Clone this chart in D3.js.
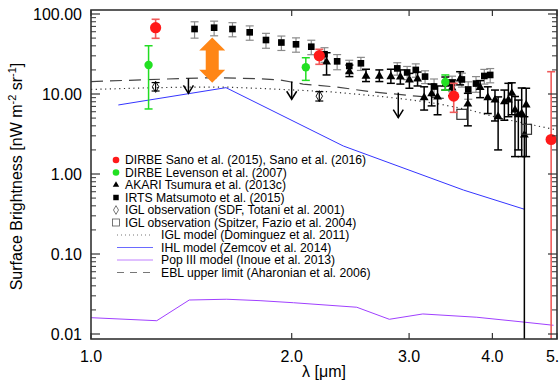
<!DOCTYPE html>
<html><head><meta charset="utf-8">
<script src="https://cdn.jsdelivr.net/npm/d3@7"></script>
<style>
html,body{margin:0;padding:0;background:#fff;}
svg{display:block;font-family:"Liberation Sans",Arial,Helvetica,sans-serif;}
</style></head>
<body><svg id="c" width="559" height="383"></svg>
<script>
// ---------- data ----------
const xTicks = [1, 2, 3, 4, 5];
const xTickLabels = ["1.0", "2.0", "3.0", "4.0", "5.0"];
const yTicks = [0.01, 0.1, 1, 10, 100];
const yTickLabels = ["0.01", "0.10", "1.00", "10.00", "100.00"];

// DIRBE Sano et al.
const sanoLam = [1.25, 2.2, 3.5, 4.9];
const sanoVal = [67.4, 30.1, 9.4, 2.7];
const sanoHi  = [85.9, 36.2, 13.6, 19.0];
const sanoLo  = [49.7, 23.5, 5.9, 0.001];

// DIRBE Levenson et al.
const levLam = [1.22, 2.10, 3.40];
const levVal = [23.0, 21.6, 14.1];
const levHi  = [40.1, 28.4, 17.3];
const levLo  = [6.5, 14.8, 11.2];

// IRTS Matsumoto et al.
const irtsLam = [1.43, 1.53, 1.63, 1.73, 1.83, 1.93, 2.03, 2.14, 2.24, 2.34, 2.44, 2.54, 2.88, 2.98, 3.07, 3.17, 3.27, 3.48, 3.60, 3.68, 3.78, 3.89, 3.97];
const irtsVal = [64.9, 67.4, 64.9, 59.0, 47.3, 44.0, 41.8, 39.0, 31.4, 25.6, 22.4, 24.2, 20.9, 18.6, 20.0, 16.5, 12.4, 13.7, 15.2, 11.4, 13.5, 16.8, 17.3];
const irtsErr = [15, 14, 13, 12, 10, 9, 8.5, 8, 6.5, 5.5, 4, 4.5, 3.7, 3.5, 3.8, 3, 3, 3, 3, 2.8, 3, 3.5, 3.5];

// AKARI Tsumura et al.
const akariLam = [2.256, 2.441, 2.585, 2.707, 2.817, 2.911, 3.003, 3.089, 3.16, 3.243, 3.31, 3.40, 3.48, 3.578, 3.675, 3.834, 3.937, 4.036, 4.08, 4.169, 4.227, 4.277, 4.325, 4.375, 4.426, 4.467, 4.495];
const akariVal = [25.1, 19.0, 16.7, 16.7, 16.5, 16.3, 15.0, 15.4, 9.0, 10.06, 9.17, 13.3, 11.9, 15.4, 7.5, 12.1, 9.0, 8.4, 5.2, 8.0, 8.4, 10.2, 6.3, 5.5, 5.7, 3.07, 7.3];
const akariHi  = [32.8, 23.0, 20.4, 20.0, 20.4, 20.0, 18.1, 18.8, 12.3, 13.3, 12.6, 16.3, 15.0, 19.0, 10.2, 14.7, 12.3, 11.2, 9.2, 11.2, 13.6, 13.8, 9.3, 8.4, 11.9, 5.2, 11.8];
const akariLo  = [17.3, 16.5, 14.3, 14.3, 13.6, 13.3, 11.8, 12.6, 6.3, 7.1, 5.5, 11.2, 9.5, 13.0, 4.0, 9.0, 5.7, 4.6, 2.0, 4.7, 5.2, 5.5, 1.65, 2.0, 1.65, 0.001, 1.65];

// IGL observation (SDF, Totani et al. 2001)
const sdfLam = [1.25, 2.2];
const sdfVal = [12.3, 9.4];
const sdfHi  = [13.9, 10.7];
const sdfLo  = [10.9, 8.17];

// IGL observation (Spitzer, Fazio et al. 2004)
const spitzerLam = [3.6, 4.5];
const spitzerVal = [5.57, 3.62];

// upper limits (arrows)
const ulLam = [1.40, 2.0, 2.89];
const ulTop = [15.7, 14.3, 10.4];
const ulTip = [10.2, 8.6, 5.06];

// orange double arrow
const orangeLam = [1.52];
const orangeTop = [51];
const orangeBottom = [13.8];

// IGL model (Dominguez et al. 2011)
const iglLam = [1.0, 1.2, 1.4, 1.6, 1.9, 2.3, 2.7, 3.0, 3.3, 3.7, 4.1, 4.6, 5.0];
const iglVal = [11.4, 11.9, 12.2, 12.2, 11.5, 10.6, 9.4, 8.5, 7.6, 6.3, 5.0, 4.1, 3.55];

// IHL model (Zemcov et al. 2014)
const ihlLam = [1.099, 1.594, 2.39, 3.62, 4.47];
const ihlVal = [7.29, 12.0, 2.24, 0.63, 0.362];

// Pop III model (Inoue et al. 2013)
const popLam = [1.0, 1.255, 1.404, 1.598, 1.793, 2.012, 2.504, 2.802, 3.145, 3.79, 4.40, 4.94];
const popVal = [0.016, 0.01466, 0.0266, 0.0272, 0.0261, 0.0246, 0.0216, 0.01527, 0.0178, 0.0162, 0.01425, 0.01285];

// EBL upper limit (Aharonian et al. 2006)
const eblLam = [1.0, 1.30, 1.535, 1.762, 1.92, 2.08, 2.34, 2.62, 3.08, 3.46];
const eblVal = [14.3, 15.4, 16.0, 15.6, 15.0, 13.3, 12.2, 10.7, 9.4, 8.7];

const legendLabels = [
  "DIRBE Sano et al. (2015), Sano et al. (2016)",
  "DIRBE Levenson et al. (2007)",
  "AKARI Tsumura et al. (2013c)",
  "IRTS Matsumoto et al. (2015)",
  "IGL observation (SDF, Totani et al. 2001)",
  "IGL observation (Spitzer, Fazio et al. 2004)",
  "IGL model (Dominguez et al. 2011)",
  "IHL model (Zemcov et al. 2014)",
  "Pop III model (Inoue et al. 2013)",
  "EBL upper limit (Aharonian et al. 2006)"
];

// ---------- layout ----------
const L = 91, R = 557, T = 10, B = 339;
const svg = d3.select("#c");
const x = d3.scaleLog().domain([1, 5]).range([L, R]);
const y = d3.scaleLog().domain([0.00866, 112.2]).range([B, T]);

const RED = "#ff1a1a", REDBAR = "#f05a5a", GREEN = "#22e022", GREENBAR = "#22dd22";
const BLUE = "#3535ff", PURPLE = "#a040ff", ORANGE = "#ff8616";

svg.append("defs").append("clipPath").attr("id", "clip")
  .append("rect").attr("x", L).attr("y", T).attr("width", R - L).attr("height", B - T);
const plot = svg.append("g").attr("clip-path", "url(#clip)");

const line = d3.line().x(d => x(d[0])).y(d => y(d[1]));
const zip = (a, b) => a.map((v, i) => [v, b[i]]);

// model lines
plot.append("path").attr("d", line(zip(popLam, popVal))).attr("fill", "none").attr("stroke", PURPLE).attr("stroke-width", 1);
plot.append("path").attr("d", line(zip(ihlLam, ihlVal))).attr("fill", "none").attr("stroke", BLUE).attr("stroke-width", 1);
plot.append("path").attr("d", line(zip(iglLam, iglVal))).attr("fill", "none").attr("stroke", "#333").attr("stroke-width", 1.2).attr("stroke-dasharray", "1.2,3.5");
plot.append("path").attr("d", line(zip(eblLam, eblVal))).attr("fill", "none").attr("stroke", "#444").attr("stroke-width", 1.2).attr("stroke-dasharray", "12,7");

function errBars(g, lam, lo, hi, color, w, cap) {
  lam.forEach((l, i) => {
    const cx = x(l);
    g.append("line").attr("x1", cx).attr("x2", cx).attr("y1", y(lo[i])).attr("y2", y(hi[i])).attr("stroke", color).attr("stroke-width", w);
    [lo[i], hi[i]].forEach(v => {
      g.append("line").attr("x1", cx - cap).attr("x2", cx + cap).attr("y1", y(v)).attr("y2", y(v)).attr("stroke", color).attr("stroke-width", w);
    });
  });
}

// IRTS
const irtsLo = irtsVal.map((v, i) => v - irtsErr[i]);
const irtsHi = irtsVal.map((v, i) => v + irtsErr[i]);
errBars(plot, irtsLam, irtsLo, irtsHi, "#8a8a8a", 1.2, 4);
irtsLam.forEach((l, i) => {
  plot.append("path").attr("d", d3.symbol(d3.symbolSquare, 44)()).attr("transform", `translate(${x(l)},${y(irtsVal[i])})`).attr("fill", "#000");
});

// AKARI
errBars(plot, akariLam, akariLo, akariHi, "#000", 1.5, 4);
akariLam.forEach((l, i) => {
  plot.append("path").attr("d", d3.symbol(d3.symbolTriangle, 34)()).attr("transform", `translate(${x(l)},${y(akariVal[i])})`).attr("fill", "#000");
});

// SDF
errBars(plot, sdfLam, sdfLo, sdfHi, "#000", 1.2, 4);
sdfLam.forEach((l, i) => {
  plot.append("path").attr("d", d3.symbol(d3.symbolDiamond, 36)()).attr("transform", `translate(${x(l)},${y(sdfVal[i])})`).attr("fill", "none").attr("stroke", "#000").attr("stroke-width", 0.9);
});

// Spitzer
spitzerLam.forEach((l, i) => {
  plot.append("rect").attr("x", x(l) - 5).attr("y", y(spitzerVal[i]) - 5).attr("width", 10).attr("height", 10).attr("fill", "none").attr("stroke", "#333").attr("stroke-width", 1.2);
});

// Levenson
errBars(plot, levLam, levLo, levHi, GREENBAR, 1.5, 4);
levLam.forEach((l, i) => {
  plot.append("circle").attr("cx", x(l)).attr("cy", y(levVal[i])).attr("r", 4.2).attr("fill", GREEN);
});

// Sano
errBars(plot, sanoLam, sanoLo, sanoHi, REDBAR, 1.6, 4);
sanoLam.forEach((l, i) => {
  plot.append("circle").attr("cx", x(l)).attr("cy", y(sanoVal[i])).attr("r", 5.6).attr("fill", RED);
});

// upper limit arrows
ulLam.forEach((l, i) => {
  const cx = x(l), y0 = y(ulTop[i]), y1 = y(ulTip[i]);
  plot.append("line").attr("x1", cx).attr("x2", cx).attr("y1", y0).attr("y2", y1).attr("stroke", "#000").attr("stroke-width", 1.5);
  plot.append("path").attr("d", `M${cx - 5},${y1 - 8}L${cx},${y1}L${cx + 5},${y1 - 8}`).attr("fill", "none").attr("stroke", "#000").attr("stroke-width", 1.5);
});

// orange double arrow
orangeLam.forEach((l, i) => {
  const cx = x(l), yt = y(orangeTop[i]), yb = y(orangeBottom[i]);
  const hw = 13, sw = 6.5, hh = 13;
  const pts = [[cx, yt], [cx + hw, yt + hh], [cx + sw, yt + hh], [cx + sw, yb - hh], [cx + hw, yb - hh], [cx, yb],
               [cx - hw, yb - hh], [cx - sw, yb - hh], [cx - sw, yt + hh], [cx - hw, yt + hh]];
  plot.append("path").attr("d", "M" + pts.map(p => p.join(",")).join("L") + "Z").attr("fill", ORANGE);
});

// ---------- axes ----------
const ax = svg.append("g").attr("stroke", "#333");
ax.append("rect").attr("x", L).attr("y", T).attr("width", R - L).attr("height", B - T).attr("fill", "none").attr("stroke-width", 1.6);

const minorY = [];
[0.01, 0.1, 1, 10].forEach(d => { for (let k = 2; k <= 9; k++) minorY.push(d * k); });
yTicks.forEach(v => {
  ax.append("line").attr("x1", L).attr("x2", L + 9).attr("y1", y(v)).attr("y2", y(v)).attr("stroke-width", 1.2);
  ax.append("line").attr("x1", R - 9).attr("x2", R).attr("y1", y(v)).attr("y2", y(v)).attr("stroke-width", 1.2);
});
minorY.forEach(v => {
  ax.append("line").attr("x1", L).attr("x2", L + 5).attr("y1", y(v)).attr("y2", y(v)).attr("stroke-width", 1);
  ax.append("line").attr("x1", R - 5).attr("x2", R).attr("y1", y(v)).attr("y2", y(v)).attr("stroke-width", 1);
});
xTicks.forEach(v => {
  ax.append("line").attr("x1", x(v)).attr("x2", x(v)).attr("y1", B).attr("y2", B - 6).attr("stroke-width", 1.2);
  ax.append("line").attr("x1", x(v)).attr("x2", x(v)).attr("y1", T).attr("y2", T + 6).attr("stroke-width", 1.2);
});

const txt = svg.append("g").attr("fill", "#000");
yTicks.forEach((v, i) => {
  txt.append("text").attr("x", L - 9).attr("y", y(v)).attr("dy", "0.36em").attr("text-anchor", "end").attr("font-size", 16).text(yTickLabels[i]);
});
xTicks.forEach((v, i) => {
  txt.append("text").attr("x", x(v)).attr("y", 362).attr("text-anchor", "middle").attr("font-size", 16).text(xTickLabels[i]);
});
txt.append("text").attr("x", (L + R) / 2).attr("y", 377).attr("text-anchor", "middle").attr("font-size", 16).text("λ [μm]");

const yt = txt.append("text").attr("transform", `translate(22,${(T + B) / 2 + 2}) rotate(-90)`).attr("text-anchor", "middle").attr("font-size", 16);
yt.append("tspan").text("Surface Brightness [nW m");
yt.append("tspan").attr("font-size", 11).attr("dy", -6).text("-2");
yt.append("tspan").attr("dy", 6).text(" sr");
yt.append("tspan").attr("font-size", 11).attr("dy", -6).text("-1");
yt.append("tspan").attr("dy", 6).text("]");

// ---------- legend ----------
const lg = svg.append("g");
const lgY0 = 160, lgDy = 12.5, mkX = 116;
legendLabels.forEach((t, i) => {
  const yy = lgY0 + i * lgDy;
  const tx = i < 6 ? 125 : 161;
  lg.append("text").attr("x", tx).attr("y", yy).attr("dy", "0.36em").attr("font-size", 12.2).attr("fill", "#000").text(t);
  if (i === 0) lg.append("circle").attr("cx", mkX).attr("cy", yy).attr("r", 3.3).attr("fill", RED);
  if (i === 1) lg.append("circle").attr("cx", mkX).attr("cy", yy).attr("r", 3.3).attr("fill", GREEN);
  if (i === 2) lg.append("path").attr("d", d3.symbol(d3.symbolTriangle, 18)()).attr("transform", `translate(${mkX},${yy})`).attr("fill", "#000");
  if (i === 3) lg.append("path").attr("d", d3.symbol(d3.symbolSquare, 30)()).attr("transform", `translate(${mkX},${yy})`).attr("fill", "#000");
  if (i === 4) lg.append("path").attr("d", d3.symbol(d3.symbolDiamond, 22)()).attr("transform", `translate(${mkX},${yy})`).attr("fill", "none").attr("stroke", "#555").attr("stroke-width", 0.8);
  if (i === 5) lg.append("rect").attr("x", mkX - 3.5).attr("y", yy - 3.5).attr("width", 7).attr("height", 7).attr("fill", "none").attr("stroke", "#555").attr("stroke-width", 0.8);
  const ls = (col, dash, w) => lg.append("line").attr("x1", 117).attr("x2", 153).attr("y1", yy).attr("y2", yy).attr("stroke", col).attr("stroke-width", w).attr("stroke-dasharray", dash);
  if (i === 6) ls("#777", "1,3", 1);
  if (i === 7) ls("#6a6aff", null, 1);
  if (i === 8) ls("#c080ff", null, 1);
  if (i === 9) ls("#777", "7,6", 1);
});
</script>
</body></html>
